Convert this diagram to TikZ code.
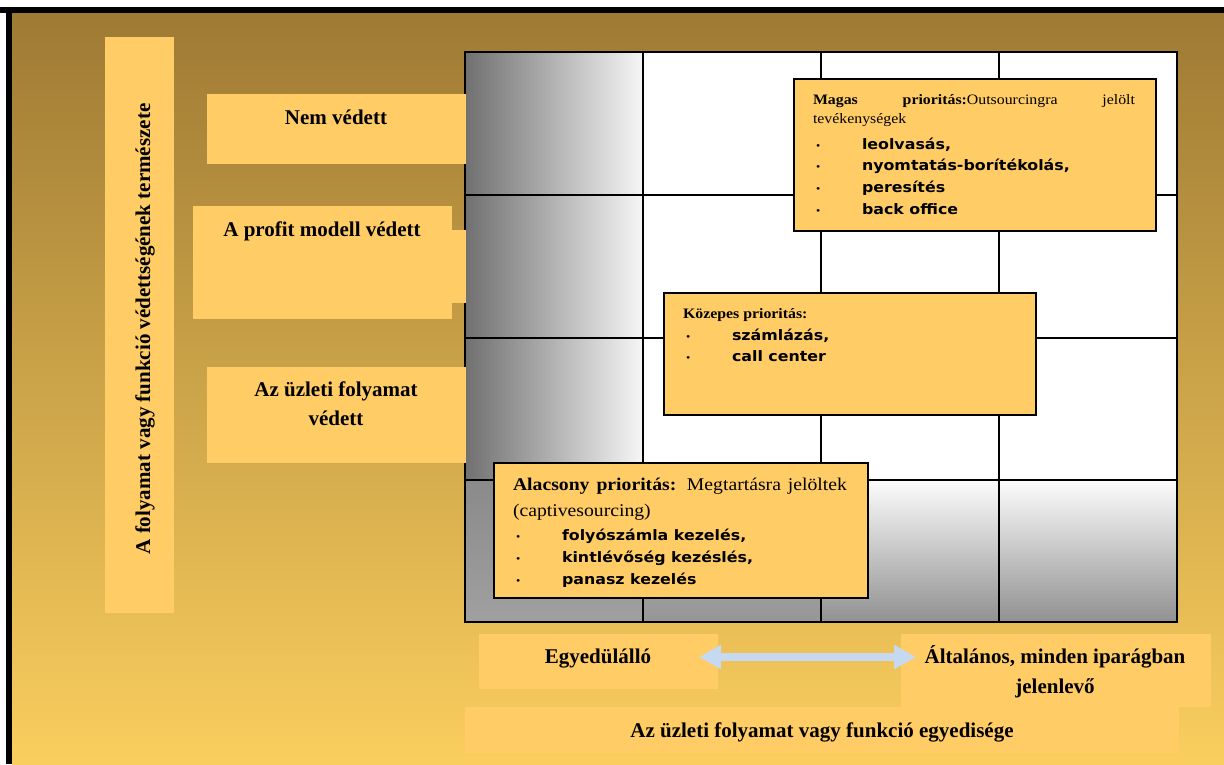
\documentclass[tikz,border=0pt]{standalone}
\usepackage{fontspec}
\setmainfont{Liberation Serif}
\newfontfamily\boxserif[FakeStretch=1.1]{Liberation Serif}
\newfontfamily\boxsans[FakeStretch=1.1]{DejaVu Sans}
\usetikzlibrary{arrows.meta}

\definecolor{bgtop}{RGB}{158,122,52}
\definecolor{bgbot}{RGB}{250,206,94}
\definecolor{lblfill}{RGB}{255,204,102}
\definecolor{arrowblue}{RGB}{198,217,241}
\definecolor{celldark}{RGB}{112,112,112}
\definecolor{celllight}{RGB}{246,246,246}

% fonts used inside the priority boxes
\newcommand\hdS{\boxserif\fontsize{14.4}{17}\selectfont}
\newcommand\hdL{\boxserif\fontsize{17.9}{21}\selectfont}
\newcommand\itS{\boxsans\bfseries\fontsize{14.4}{17}\selectfont}
\newcommand\bulmark{\makebox[46pt][l]{\boxserif\fontsize{11}{11}\selectfont\textbullet}}
\newcommand\lblfont{\bfseries\fontsize{21}{25}\selectfont}

\begin{document}
\begin{tikzpicture}[x=1pt,y=-1pt,
  lbl/.style={fill=lblfill, draw=none, inner sep=0pt, outer sep=0pt, anchor=north west},
  prio/.style={fill=lblfill, draw=black, line width=1.5pt, inner sep=0pt, anchor=north west},
  tl/.style={anchor=base west, inner sep=0pt, outer sep=0pt},
  lt/.style={anchor=base, inner sep=0pt, outer sep=0pt, font=\lblfont},
  gridline/.style={line width=2pt, black}]

\useasboundingbox (0,0) rectangle (1224,764);
\fill[white] (0,0) rectangle (1224,764);

% frame and background
\fill[black] (0,7) rectangle (1224,13);
\fill[black] (6,7) rectangle (12,764);
\shade[top color=bgtop, bottom color=bgbot] (12,13) rectangle (1224,764);

% 4x4 matrix
\fill[white] (465,52) rectangle (1177,622);
\shade[left color=celldark, right color=celllight] (465,52) rectangle (643,480);
\shade[top color={rgb,255:red,138;green,138;blue,138}, bottom color={rgb,255:red,160;green,160;blue,160}] (465,480) rectangle (643,622);
\shade[top color={rgb,255:red,185;green,185;blue,185}, bottom color={rgb,255:red,150;green,150;blue,150}] (643,480) rectangle (821,622);
\shade[top color={rgb,255:red,252;green,252;blue,252}, bottom color={rgb,255:red,145;green,145;blue,145}] (821,480) rectangle (999,622);
\shade[top color={rgb,255:red,252;green,252;blue,252}, bottom color={rgb,255:red,145;green,145;blue,145}] (999,480) rectangle (1177,622);
\draw[gridline] (465,52) rectangle (1177,622);
\draw[gridline] (643,52) -- (643,622) (821,52) -- (821,622) (999,52) -- (999,622);
\draw[gridline] (465,195) -- (1177,195) (465,338) -- (1177,338) (465,480) -- (1177,480);

% vertical axis
\node[lbl, minimum width=69pt, minimum height=576pt] (axisbox) at (105,37) {};
\node[lt, rotate=90] (axistext) at (150,329) {A folyamat vagy funkció védettségének természete};

% row labels
\node[lbl, minimum width=259pt, minimum height=70pt] (nembox) at (207,94) {};
\node[lt] (nemtext) at (336,124) {Nem védett};

\node[lbl, minimum width=259pt, minimum height=113pt] (profbox) at (193,206) {};
\node[lbl, minimum width=14pt, minimum height=73pt] (proftab) at (452,230) {};
\node[lt] (proftext) at (322,236.5) {A profit modell védett};

\node[lbl, minimum width=259pt, minimum height=96pt] (uzletbox) at (207,367) {};
\node[lt] (uzlettext1) at (336,396.5) {Az üzleti folyamat};
\node[lt] (uzlettext2) at (336,425) {védett};

% priority boxes
\node[prio, minimum width=362pt, minimum height=152pt] (magas) at (793,78) {};
\node[tl] (magas1) at (813,104) {\hdS\makebox[322pt][s]{\bfseries Magas prioritás:\mdseries Outsourcingra jelölt}};
\node[tl] (magas2) at (813,123.3) {\hdS tevékenységek};
\node[tl] (magas3) at (816,149) {\bulmark\itS leolvasás,};
\node[tl] (magas4) at (816,170.7) {\bulmark\itS nyomtatás-borítékolás,};
\node[tl] (magas5) at (816,192.4) {\bulmark\itS peresítés};
\node[tl] (magas6) at (816,214) {\bulmark\itS back office};

\node[prio, minimum width=372pt, minimum height=122pt] (kozepes) at (663,292) {};
\node[tl] (kozepes1) at (683,318.3) {\hdS\bfseries Közepes prioritás:};
\node[tl] (kozepes2) at (686,340) {\bulmark\itS számlázás,};
\node[tl] (kozepes3) at (686,361.7) {\bulmark\itS call center};

\node[prio, minimum width=374pt, minimum height=135pt] (alacsony) at (493,462) {};
\node[tl] (alacsony1) at (513,490) {\hdL\makebox[334pt][s]{\bfseries Alacsony prioritás: \mdseries Megtartásra jelöltek}};
\node[tl] (alacsony2) at (513,516) {\hdL (captivesourcing)};
\node[tl] (alacsony3) at (516,540) {\bulmark\itS folyószámla kezelés,};
\node[tl] (alacsony4) at (516,562) {\bulmark\itS kintlévőség kezéslés,};
\node[tl] (alacsony5) at (516,584) {\bulmark\itS panasz kezelés};

% horizontal axis
\node[lbl, minimum width=239pt, minimum height=55pt] (egybox) at (479,634) {};
\node[lt] (egytext) at (598,663) {Egyedülálló};
\node[lbl, minimum width=310pt, minimum height=73pt] (altbox) at (901,634) {};
\node[lt] (alttext1) at (1055,663) {Általános, minden iparágban};
\node[lt] (alttext2) at (1055,693) {jelenlevő};
\node[lbl, minimum width=714pt, minimum height=46pt] (uzbox) at (465,707) {};
\node[lt] (uztext) at (822,737) {Az üzleti folyamat vagy funkció egyedisége};

\coordinate (arrL) at (699,657);
\coordinate (arrR) at (916,657);
\draw[arrowblue, line width=8pt, {Triangle[length=22pt,width=23pt]}-{Triangle[length=22pt,width=23pt]}] (arrL) -- (arrR);

\end{tikzpicture}
\end{document}
